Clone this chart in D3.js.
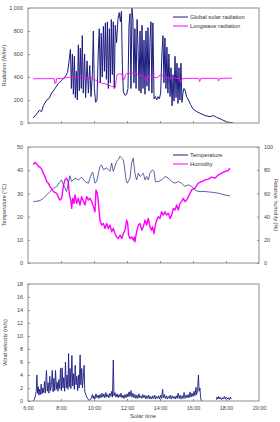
<!DOCTYPE html>
<html><head><meta charset="utf-8">
<script src="https://cdn.jsdelivr.net/npm/d3@7"></script>
<style>
html,body{margin:0;padding:0;background:#fff;}
svg{display:block;font-family:"Liberation Sans",Arial,sans-serif;}
</style></head>
<body>
<svg id="c" width="280" height="422"></svg>
<script>
// ---------- DATA ----------
const hourTicks = [6, 8, 10, 12, 14, 16, 18, 20];
const hourTickLabels = ["6:00","8:00","10:00","12:00","14:00","16:00","18:00","20:00"];

const radTime = [6.32,6.53,6.69,6.83,6.93,7.13,7.29,7.43,7.64,7.84,8.04,8.24,8.40,8.51,8.57,8.63,8.69,8.75,8.81,8.87,8.93,8.99,9.05,9.11,9.17,9.23,9.29,9.35,9.43,9.49,9.58,9.66,9.74,9.82,9.90,9.96,10.02,10.10,10.18,10.26,10.32,10.38,10.44,10.50,10.57,10.63,10.69,10.75,10.81,10.87,10.93,10.99,11.05,11.11,11.17,11.23,11.29,11.37,11.45,11.53,11.60,11.66,11.72,11.78,11.88,11.98,12.06,12.12,12.18,12.24,12.30,12.36,12.42,12.48,12.55,12.61,12.67,12.73,12.79,12.85,12.91,12.97,13.03,13.09,13.15,13.21,13.27,13.33,13.39,13.45,13.51,13.57,13.64,13.72,13.80,13.88,13.96,14.04,14.12,14.18,14.24,14.30,14.36,14.42,14.48,14.54,14.61,14.67,14.73,14.79,14.85,14.91,14.97,15.03,15.09,15.15,15.21,15.27,15.33,15.39,15.45,15.53,15.61,15.73,15.85,16.01,16.22,16.42,16.73,17.03,17.23,17.43,17.74,18.04,18.44];
const radGlobal = [45,80,110,100,150,200,215,260,300,345,370,400,440,560,640,300,600,250,580,220,450,200,680,280,650,300,760,260,600,220,540,260,500,230,420,800,300,180,200,620,820,350,780,400,840,450,870,380,880,300,820,350,900,420,880,300,850,700,900,960,880,970,500,270,240,250,300,850,950,300,1000,900,350,820,300,900,650,280,800,260,850,300,720,250,800,320,830,280,700,880,260,870,210,230,200,230,210,260,620,760,350,740,300,660,260,600,230,480,150,420,190,580,220,520,170,480,200,520,180,260,300,280,230,200,160,120,100,85,65,55,65,50,30,10,0];

const lwTime = [6.32,6.9,7.5,7.6,7.62,7.7,7.72,8.0,8.3,8.5,8.7,8.9,9.1,9.2,9.35,9.5,9.6,9.8,9.95,10.1,10.3,10.5,10.7,10.9,11.05,11.2,11.3,11.33,11.4,11.55,11.7,11.75,11.85,11.9,12.0,12.2,12.3,12.45,12.55,12.7,12.8,12.9,13.0,13.1,13.15,13.2,13.4,13.6,13.7,13.9,14.0,14.2,14.35,14.5,14.7,14.9,15.0,15.2,15.25,15.35,15.6,16.0,16.35,16.4,16.48,17.0,17.5,17.55,17.62,18.0,18.35];
const radLongwave = [385,385,386,384,345,348,384,388,392,398,396,402,395,410,392,405,385,395,380,372,355,345,340,330,320,315,312,360,420,428,425,375,380,418,430,432,436,425,432,420,410,418,402,390,360,400,415,410,392,400,420,405,395,390,388,392,386,390,350,385,388,388,388,360,388,388,388,365,388,389,390];

const tempTime = [6.32,6.73,6.93,7.13,7.33,7.54,7.74,7.94,8.04,8.14,8.34,8.54,8.64,8.85,9.05,9.25,9.45,9.66,9.86,9.92,10.06,10.16,10.36,10.46,10.57,10.77,10.97,11.07,11.17,11.27,11.37,11.47,11.58,11.68,11.78,11.88,11.94,12.02,12.18,12.28,12.38,12.48,12.58,12.69,12.79,12.89,12.99,13.09,13.19,13.29,13.39,13.55,13.64,13.72,13.90,14.10,14.30,14.51,14.71,14.91,15.11,15.31,15.51,15.72,15.92,16.12,16.32,16.73,17.13,17.54,17.94,18.24];
const temperature = [26.4,26.9,27.9,29.3,30.8,32.2,33.0,35.1,35.8,33.7,30.8,37.6,35.1,36.6,35.8,37.0,35.1,34.4,38.7,39.2,34.4,35.1,41.6,42.3,40.2,41.0,39.5,43.1,39.5,41.6,43.8,44.5,46.0,45.2,44.5,39.5,35.8,34.4,36.6,43.1,45.2,38.7,35.8,38.7,37.3,38.0,38.7,35.8,37.3,35.8,38.7,40.2,39.5,35.1,35.1,35.8,37.3,36.6,35.1,34.4,35.1,34.4,33.0,33.7,33.0,31.5,30.8,30.8,30.5,30.1,29.3,28.9];

const humTime = [6.32,6.42,6.53,6.63,6.73,6.83,6.93,7.03,7.13,7.23,7.33,7.54,7.74,7.84,7.94,8.04,8.14,8.24,8.34,8.44,8.50,8.59,8.65,8.71,8.79,8.85,8.95,9.05,9.15,9.25,9.35,9.45,9.56,9.66,9.76,9.86,9.96,10.06,10.12,10.20,10.26,10.36,10.46,10.57,10.67,10.77,10.87,10.97,11.07,11.17,11.27,11.37,11.47,11.58,11.68,11.78,11.88,11.98,12.04,12.10,12.18,12.28,12.38,12.44,12.48,12.58,12.69,12.79,12.89,12.99,13.09,13.19,13.29,13.39,13.49,13.55,13.64,13.72,13.80,13.90,14.00,14.10,14.20,14.30,14.40,14.51,14.61,14.71,14.81,14.91,15.01,15.11,15.21,15.31,15.41,15.51,15.62,15.72,15.82,15.92,16.12,16.32,16.53,16.73,16.93,17.13,17.33,17.54,17.74,17.94,18.14,18.24];
const humidity = [84.7,86.7,85.5,83.2,82.7,80.9,77.5,74.6,70.2,68.8,66.0,61.6,60.1,56.6,54.3,55.8,65.9,71.7,73.1,70.2,60.1,54.3,47.1,55.8,51.4,58.7,51.4,55.8,50.0,57.2,53.5,50.0,57.2,54.3,55.8,52.9,48.6,44.2,63.0,60.1,52.9,37.0,32.7,34.1,29.8,34.1,29.8,32.7,26.9,29.8,25.4,22.5,21.1,24.0,21.1,25.4,28.3,37.0,34.1,24.0,21.1,22.5,19.7,22.5,18.2,26.9,32.7,34.1,28.3,31.2,37.0,32.7,38.4,31.2,28.3,31.2,25.4,32.7,37.0,39.9,38.4,44.2,41.3,44.2,41.3,42.8,38.4,41.3,47.1,45.7,50.0,45.7,51.4,52.9,55.8,52.9,54.3,57.2,60.1,63.0,64.5,68.8,70.2,71.7,72.3,74.0,73.1,76.0,77.5,78.9,79.8,81.8];

const windTime = [6.30,6.38,6.45,6.50,6.54,6.58,6.62,6.66,6.70,6.75,6.80,6.85,6.90,6.95,7.00,7.05,7.12,7.17,7.22,7.27,7.32,7.37,7.42,7.47,7.52,7.57,7.62,7.67,7.72,7.77,7.82,7.87,7.92,7.97,8.02,8.07,8.12,8.17,8.22,8.27,8.32,8.37,8.42,8.46,8.50,8.55,8.60,8.66,8.71,8.76,8.81,8.86,8.91,8.96,9.01,9.06,9.10,9.16,9.20,9.26,9.30,9.35,9.40,9.44,9.50,9.58,9.66,9.74,9.80,9.86,9.90,9.95,10.00,10.05,10.12,10.18,10.25,10.30,10.36,10.42,10.48,10.54,10.60,10.66,10.72,10.78,10.84,10.90,10.96,11.02,11.08,11.12,11.17,11.21,11.27,11.33,11.40,11.46,11.52,11.58,11.64,11.70,11.76,11.82,11.88,11.94,12.00,12.06,12.12,12.18,12.24,12.30,12.36,12.42,12.48,12.54,12.60,12.66,12.72,12.78,12.84,12.90,12.96,13.02,13.08,13.14,13.20,13.26,13.32,13.38,13.44,13.50,13.56,13.62,13.68,13.74,13.80,13.86,13.92,13.98,14.04,14.10,14.16,14.20,14.26,14.32,14.38,14.44,14.50,14.56,14.62,14.68,14.74,14.80,14.86,14.92,14.98,15.04,15.10,15.16,15.22,15.28,15.34,15.40,15.46,15.52,15.58,15.64,15.70,15.76,15.82,15.88,15.94,16.00,16.06,16.12,16.18,16.22,16.28,16.33,16.37,16.42,16.46,16.50,16.55,17.00,17.42,17.46,17.50,17.55,17.60,17.66,17.72,17.78,17.84,17.90,17.96,18.02,18.08,18.14,18.20,18.26,18.32];
const windSpeed = [0,0.2,0.8,1.5,4.0,1.2,2.2,0.9,1.8,1.0,2.6,1.1,2.0,1.3,3.0,1.2,4.7,1.5,2.8,1.2,3.8,1.6,2.5,4.7,1.4,3.5,1.6,4.7,1.8,2.9,1.5,3.3,1.9,5.0,1.6,5.1,2.0,3.6,1.5,6.0,2.0,4.0,1.8,7.3,2.2,5.0,1.9,7.0,2.3,4.2,1.8,5.5,2.5,3.8,1.6,4.0,2.0,7.1,2.5,5.0,2.0,3.5,5.5,1.5,1.0,0.5,0.2,0.1,0.3,0.6,1.0,0.4,0.8,0.3,1.1,0.5,0.9,0.4,1.0,0.5,1.2,0.6,1.1,0.5,1.3,0.6,1.0,0.5,1.2,0.7,1.5,0.6,6.3,0.8,1.3,0.6,1.1,0.5,1.0,0.6,1.2,0.5,0.9,0.4,1.0,0.5,1.1,0.6,1.4,0.7,1.6,0.6,1.2,0.5,1.0,0.4,0.9,0.4,1.1,0.5,0.8,0.4,1.0,0.5,0.9,0.3,0.8,0.4,0.9,0.3,0.7,0.3,0.8,0.4,0.9,0.3,0.7,0.4,0.8,0.3,0.9,0.4,1.8,0.5,1.0,0.4,0.8,0.3,0.7,0.4,0.9,0.3,0.8,0.4,0.7,0.3,0.8,0.4,1.2,0.4,0.9,0.3,0.8,0.4,1.3,0.4,0.9,0.5,1.0,0.5,1.4,0.6,1.2,0.7,1.5,0.8,2.1,1.0,1.8,4.0,1.5,2.0,0.5,0.1,0,null,0.2,0.6,0.3,0.7,0.3,0.6,0.2,0.5,0.3,0.7,0.3,0.6,0.3,0.5,0.2,0.6,0.3];

const radTicks = [0,200,400,600,800,1000];
const tempTicks = [0,10,20,30,40,50];
const humTicks = [0,20,40,60,80,100];
const windTicks = [0,2,4,6,8,10,12,14,16,18];

// ---------- DRAW ----------
const NAVY = "#1c1c80", MAG = "#ff00ff", FRAME = "#8c8c8c", TXT = "#444";
const svg = d3.select("#c");
const x = d3.scaleLinear().domain([6, 20]).range([28, 259]);

function frame(g, top, bottom, id) {
  svg.append("defs").append("clipPath").attr("id", id)
    .append("rect").attr("x", 28).attr("y", top).attr("width", 231).attr("height", bottom - top);
  g.append("rect").attr("x", 28).attr("y", top).attr("width", 231).attr("height", bottom - top)
    .attr("fill", "none").attr("stroke", FRAME).attr("stroke-width", 1);
}
function styleAxis(a) {
  a.select(".domain").remove();
  a.selectAll(".tick line").attr("stroke", FRAME);
  a.selectAll(".tick text").attr("fill", TXT).style("font-size", "5.5px")
    .style("font-family", "'Liberation Sans',Arial,sans-serif");
}
function bottomAxis(bottom, labels) {
  const a = svg.append("g").attr("transform", `translate(0,${bottom})`)
    .call(d3.axisBottom(x).tickValues(hourTicks).tickSize(-2).tickPadding(5)
      .tickFormat((d, i) => labels ? hourTickLabels[i] : ""));
  styleAxis(a);
  a.selectAll(".tick").filter(d => d === 6 || d === 20).select("line").remove();
  return a;
}
function leftAxis(y, ticks) {
  const a = svg.append("g").attr("transform", "translate(28,0)")
    .call(d3.axisLeft(y).tickValues(ticks).tickSize(-2).tickPadding(5));
  styleAxis(a);
}
function ylabel(txt, cx, cy, rot) {
  svg.append("text").attr("transform", `translate(${cx},${cy}) rotate(${rot})`)
    .attr("text-anchor", "middle").attr("fill", TXT).style("font-size", "5.5px").text(txt);
}
function legend(items, x0, y0) {
  items.forEach((it, i) => {
    const yy = y0 + i * 9;
    svg.append("line").attr("x1", x0).attr("x2", x0 + 15).attr("y1", yy).attr("y2", yy)
      .attr("stroke", it.c).attr("stroke-width", 1);
    svg.append("text").attr("x", x0 + 17).attr("y", yy + 2).attr("fill", "#333")
      .style("font-size", "5.8px").text(it.t);
  });
}
function series(times, vals, y, color, clip, w) {
  const data = times.map((t, i) => [t, vals[i]]);
  svg.append("path").datum(data)
    .attr("clip-path", `url(#${clip})`)
    .attr("fill", "none").attr("stroke", color).attr("stroke-width", w || 0.9)
    .attr("stroke-linejoin", "round")
    .attr("d", d3.line().defined(d => d[1] !== null).x(d => x(d[0])).y(d => y(d[1])));
}

// Panel 1: radiation
{
  const top = 8, bottom = 123;
  const y = d3.scaleLinear().domain([0, 1000]).range([bottom, top]);
  series(radTime, radGlobal, y, NAVY, "c1", 1.0);
  series(lwTime, radLongwave, y, MAG, "c1", 0.9);
  const g = svg.append("g"); frame(g, top, bottom, "c1");
  leftAxis(y, radTicks);
  bottomAxis(bottom, false);
  ylabel("Radiation (W/m\u00B2)", 6, (top + bottom) / 2, -90);
  legend([{ t: "Global solar radiation", c: NAVY }, { t: "Longwave radiation", c: MAG }], 173, 17);
}
// Panel 2: temperature / humidity
{
  const top = 147, bottom = 263;
  const y = d3.scaleLinear().domain([0, 50]).range([bottom, top]);
  const y2 = d3.scaleLinear().domain([0, 100]).range([bottom, top]);
  series(humTime, humidity, y2, MAG, "c2", 1.4);
  series(tempTime, temperature, y, "#3a3a90", 0.8 ? "c2" : "c2", 0.8);
  const g = svg.append("g"); frame(g, top, bottom, "c2");
  leftAxis(y, tempTicks);
  const a = svg.append("g").attr("transform", "translate(259,0)")
    .call(d3.axisRight(y2).tickValues(humTicks).tickSize(-2).tickPadding(5));
  styleAxis(a);
  bottomAxis(bottom, false);
  ylabel("Temperature (\u00B0C)", 6, (top + bottom) / 2, -90);
  ylabel("Relative humidity (%)", 274, (top + bottom) / 2, 90);
  legend([{ t: "Temperature", c: NAVY }, { t: "Humidity", c: MAG }], 173, 155);
}
// Panel 3: wind
{
  const top = 284, bottom = 401;
  const y = d3.scaleLinear().domain([0, 18]).range([bottom, top]);
  series(windTime, windSpeed, y, NAVY, "c3", 0.9);
  const g = svg.append("g"); frame(g, top, bottom, "c3");
  leftAxis(y, windTicks);
  bottomAxis(bottom, true);
  ylabel("Wind velocity (m/s)", 7, (top + bottom) / 2, -90);
  svg.append("text").attr("x", 143).attr("y", 418).attr("text-anchor", "middle")
    .attr("fill", TXT).style("font-size", "5.8px").text("Solar time");
}
</script>
</body></html>
